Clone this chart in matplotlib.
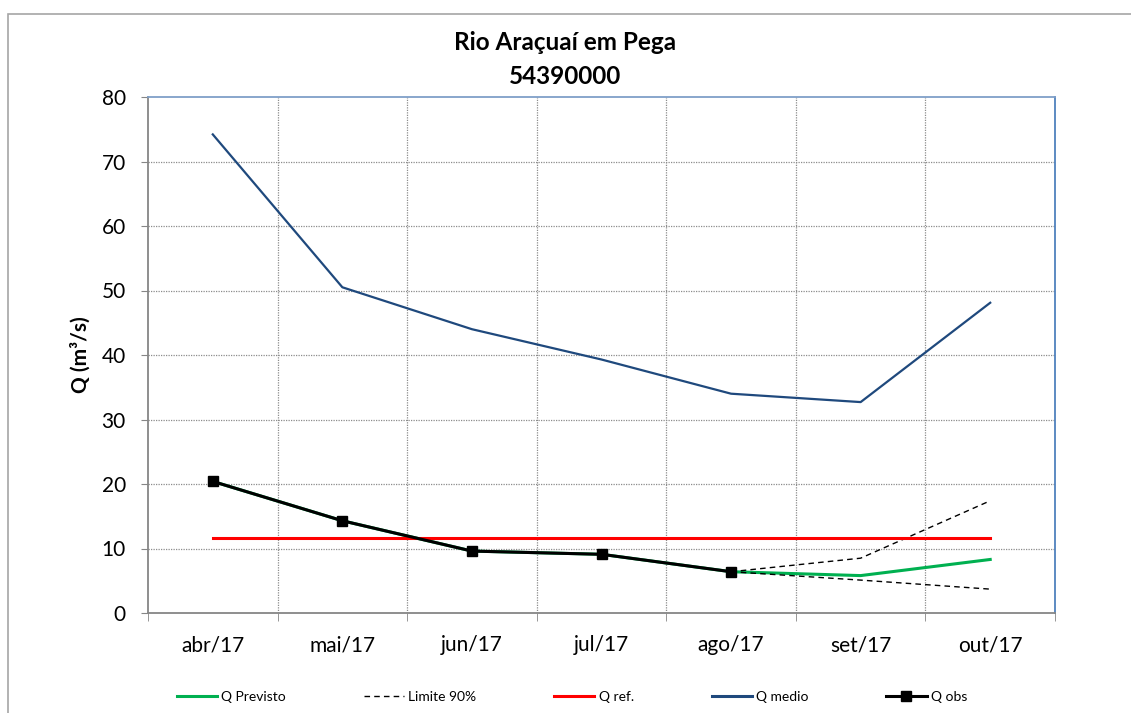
import matplotlib
matplotlib.use('Agg')
import matplotlib.pyplot as plt
from matplotlib.patches import Rectangle
from matplotlib.lines import Line2D

# dados mensais (m³/s)
meses = ['abr/17', 'mai/17', 'jun/17', 'jul/17', 'ago/17', 'set/17', 'out/17']
q_obs = [20.4, 14.3, 9.6, 9.1, 6.4]
q_previsto = [20.4, 14.3, 9.6, 9.1, 6.4, 5.8, 8.3]
lim_sup = [6.4, 8.5, 17.4]
lim_inf = [6.4, 5.1, 3.7]
q_ref = [11.7] * 7
q_medio = [74.2, 50.5, 44.0, 39.3, 34.0, 32.7, 48.1]

plt.rcParams['font.family'] = ['Lato', 'DejaVu Sans']

fig = plt.figure(figsize=(11.31, 7.13), dpi=100)
ax = fig.add_axes([148/1131, 1 - 613/713, 907/1131, 516/713])

x = list(range(len(meses)))
ax.plot(x, q_previsto, color='#00b050', lw=2.2, zorder=3)
ax.plot(x[4:], lim_sup, color='black', lw=1, ls=(0, (4, 3)), zorder=3)
ax.plot(x[4:], lim_inf, color='black', lw=1, ls=(0, (4, 3)), zorder=3)
ax.plot(x, q_ref, color='#ff0000', lw=2.2, zorder=3)
ax.plot(x, q_medio, color='#1f497d', lw=1.6, zorder=3)
ax.plot(x[:len(q_obs)], q_obs, color='black', lw=2.2, marker='s', ms=7, zorder=4)

ax.set_xlim(-0.5, 6.5)
ax.set_ylim(0, 80)
ax.set_yticks(range(0, 81, 10))
ax.set_xticks(x)
ax.set_xticklabels(meses)
ax.set_xticks([i + 0.5 for i in range(-1, 7)], minor=True)
ax.tick_params(axis='x', which='major', length=0, pad=16, labelsize=15)
ax.tick_params(axis='x', which='minor', length=6, color='#868686')
ax.tick_params(axis='y', length=5, color='#868686', labelsize=15, pad=11)

for yv in range(10, 80, 10):
    ax.axhline(yv, color='#8c8c8c', lw=0.9, ls=(0, (1, 1)), zorder=1)
for xv in [i + 0.5 for i in range(6)]:
    ax.axvline(xv, color='#8c8c8c', lw=0.9, ls=(0, (1, 1)), zorder=1)

ax.spines['left'].set_color('#868686')
ax.spines['bottom'].set_color('#868686')
ax.spines['top'].set_color('#7f9fc8')
ax.spines['right'].set_color('#4f81bd')
for s in ax.spines.values():
    s.set_linewidth(1.3)

ax.set_ylabel('Q (m³/s)', fontsize=15, fontweight='bold', labelpad=8)

# titulo centrado na figura, duas linhas
fig.text(565/1131, 1 - 43/713, 'Rio Araçuaí em Pega', ha='center', va='center',
         fontsize=17.5, fontweight='bold')
fig.text(565/1131, 1 - 76/713, '54390000', ha='center', va='center',
         fontsize=17.5, fontweight='bold')

handles = [
    Line2D([], [], color='#00b050', lw=2.2),
    Line2D([], [], color='black', lw=1, ls=(0, (4, 3))),
    Line2D([], [], color='#ff0000', lw=2.2),
    Line2D([], [], color='#1f497d', lw=2.2),
    Line2D([], [], color='black', lw=2.2, marker='s', ms=7),
]
labels = ['Q Previsto', 'Limite 90%', 'Q ref.', 'Q medio', 'Q obs']
fig.legend(handles, labels, loc='center', bbox_to_anchor=(572/1131, 1 - 697/713),
           ncol=5, frameon=False, fontsize=10, handlelength=2.9,
           handletextpad=0.3, columnspacing=5.6)

# moldura externa
fig.patches.append(Rectangle((8/1131, -0.2), 1.2, 1.2 - 14/713,
                             transform=fig.transFigure, fill=False,
                             edgecolor='#a6a6a6', lw=1.2))

fig.savefig('out.png', dpi=100)
